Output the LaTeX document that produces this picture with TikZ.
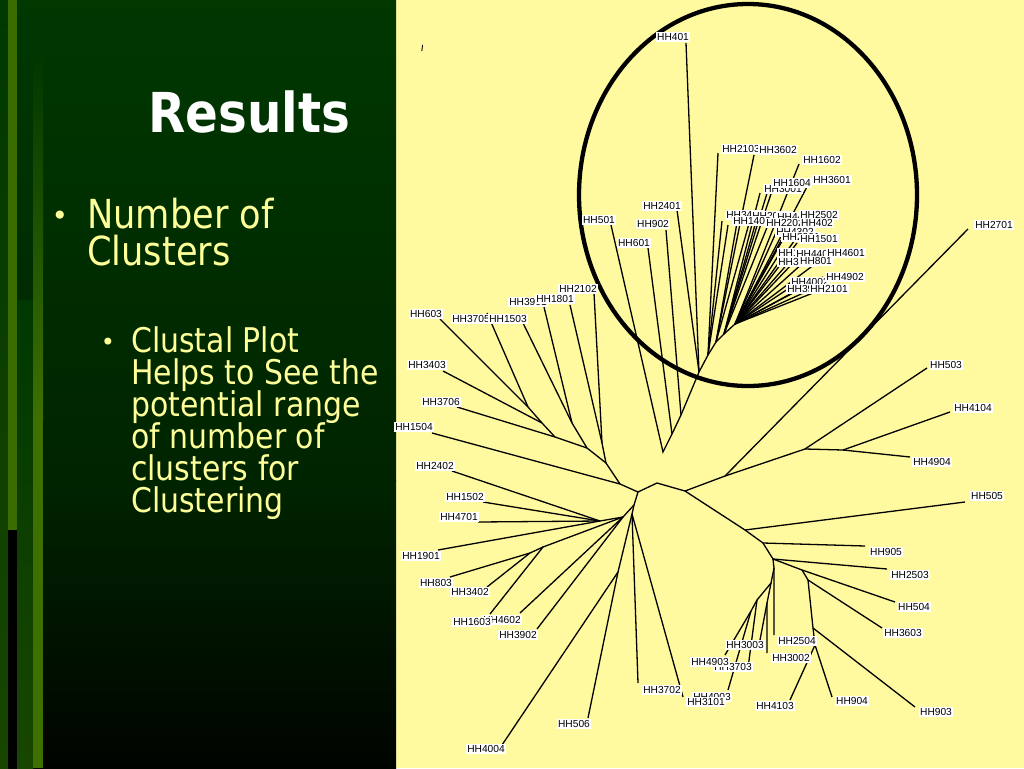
\documentclass[tikz,border=0pt]{standalone}
\usepackage{fontspec}
\setmainfont{DejaVu Sans}
\newfontfamily\tah[FakeStretch=0.88]{DejaVu Sans}
\newfontfamily\labf{Liberation Sans}
\definecolor{ybg}{RGB}{255,249,160}
\definecolor{ytext}{RGB}{255,255,153}
\definecolor{gA}{RGB}{0,56,0}
\definecolor{gB}{RGB}{0,36,0}
\definecolor{gC}{RGB}{0,4,0}
\definecolor{stA}{RGB}{58,108,0}
\definecolor{stB}{RGB}{62,112,0}
\definecolor{stC}{RGB}{24,70,0}
\begin{document}
\begin{tikzpicture}[x=1pt,y=-1pt,
  lab/.style={fill=white, inner xsep=1pt, inner ysep=1pt, font=\labf\fontsize{10.2}{10}\selectfont, text height=7.3pt, text depth=0pt},
  br/.style={line width=1.3pt, black},
  ttl/.style={anchor=base west, inner sep=0, text=white, font=\tah\bfseries\fontsize{55}{60}\selectfont},
  big/.style={anchor=base west, inner sep=0, text=ytext, font=\tah\fontsize{40}{40}\selectfont},
  small/.style={anchor=base west, inner sep=0, text=ytext, font=\tah\fontsize{34}{34}\selectfont}]
\useasboundingbox (0,0) rectangle (1024,768);
% ---------- backgrounds
\fill[ybg] (396,0) rectangle (1024,768);
\shade[top color=gA, bottom color=gB] (0,0) rectangle (396,480);
\shade[top color=gB, bottom color=gC] (0,480) rectangle (396,768);
\shade[top color=gA, bottom color=stC] (0,0) rectangle (8,768);
\fill[stA] (8,0) rectangle (17,530);
\fill[black] (8,530) rectangle (17,768);
\shade[top color=gA, bottom color=stC] (17,300) rectangle (33,768);
\shade[top color=gA, bottom color=stB] (33,60) rectangle (43,420);
\fill[stB] (33,420) rectangle (43,768);
% ---------- text
\node[ttl] (title) at (148,132) {Results};
\node[anchor=base, inner sep=0, text=ytext, font=\fontsize{28}{28}\selectfont] (bul1) at (60,225) {•};
\node[big] (t1a) at (87,228) {Number of};
\node[big] (t1b) at (87,265) {Clusters};
\node[anchor=base, inner sep=0, text=ytext, font=\fontsize{24}{24}\selectfont] (bul2) at (108,350) {•};
\node[small] (t2a) at (131,352) {Clustal Plot};
\node[small] (t2b) at (131,384) {Helps to See the};
\node[small] (t2c) at (131,416) {potential range};
\node[small] (t2d) at (131,448) {of number of};
\node[small] (t2e) at (131,480) {clusters for};
\node[small] (t2f) at (131,512) {Clustering};
% ---------- tick mark
\coordinate (tk1) at (422.6,45);
\coordinate (tk2) at (421.8,51);
\draw[line width=0.9pt] (tk1) -- (tk2);
% ---------- internal nodes
\coordinate (A) at (638,492);
\coordinate (B) at (620,484);
\coordinate (C) at (606,463);
\coordinate (D) at (587,448);
\coordinate (E) at (555,437);
\coordinate (F) at (542,423);
\coordinate (G) at (528,407);
\coordinate (H) at (572,423);
\coordinate (I) at (602,443);
\coordinate (J) at (634,505);
\coordinate (J2) at (632,514);
\coordinate (K) at (623,517);
\coordinate (N2) at (600,521);
\coordinate (N4) at (543,547);
\coordinate (N5) at (530,553);
\coordinate (L) at (618,572);
\coordinate (S1) at (657,483);
\coordinate (S2) at (685,491);
\coordinate (T1) at (725,476);
\coordinate (T2) at (805,449);
\coordinate (T3) at (843,450);
\coordinate (U1) at (745,530);
\coordinate (U2) at (763,543);
\coordinate (U3) at (773,559);
\coordinate (U4) at (802,570);
\coordinate (U5) at (808,580);
\coordinate (U6) at (813,628);
\coordinate (U7) at (815,645);
\coordinate (V1) at (774,568);
\coordinate (V2) at (771,583);
\coordinate (V3) at (767,603);
\coordinate (V4) at (757,600);
\coordinate (V5) at (751,611);
\coordinate (V) at (663,452);
\coordinate (Q1) at (672,434);
\coordinate (Q2) at (681,415);
\coordinate (Q3) at (699,372);
\coordinate (Q4) at (708,355);
\coordinate (Q5) at (716,342);
\coordinate (Q6) at (724,334);
\coordinate (Q7) at (735,324);
% ---------- leaf ends
\coordinate (e603) at (440,319);
\coordinate (e3705) at (487,313);
\coordinate (e1503) at (523,323);
\coordinate (e3901) at (544,307);
\coordinate (e1801) at (570,305);
\coordinate (e2102) at (594,293);
\coordinate (e3403) at (443,371);
\coordinate (e3706) at (457,407);
\coordinate (e1504) at (432,433);
\coordinate (e2402) at (452,471);
\coordinate (e1502) at (483,502);
\coordinate (e4701) at (478,522);
\coordinate (e1901) at (438,550);
\coordinate (e803) at (450,577);
\coordinate (e3402) at (487,587);
\coordinate (e1603) at (490,614);
\coordinate (e4602) at (520,613);
\coordinate (e3902) at (537,629);
\coordinate (e4004) at (502,745);
\coordinate (e506) at (588,718);
\coordinate (e3702) at (638,683);
\coordinate (e3101) at (683,697);
\coordinate (e2701) at (968,229);
\coordinate (e503) at (927,368);
\coordinate (e4104) at (950,412);
\coordinate (e4904) at (910,457);
\coordinate (e505) at (965,502);
\coordinate (e905) at (865,546);
\coordinate (e2503) at (887,569);
\coordinate (e504) at (895,602);
\coordinate (e3603) at (882,628);
\coordinate (e903) at (915,707);
\coordinate (e904) at (832,697);
\coordinate (e4103) at (790,700);
\coordinate (e2504) at (774,635);
\coordinate (e3002) at (767,653);
\coordinate (e3003) at (760,640);
\coordinate (e3703) at (748,668);
\coordinate (e4903) at (725,655);
\coordinate (e4003) at (728,690);
\coordinate (e501) at (611,225);
\coordinate (e601) at (648,248);
\coordinate (e902) at (666,230);
\coordinate (e2401) at (677,210);
\coordinate (e401) at (686,43);
\coordinate (f1) at (718,153);
\coordinate (f2) at (722,221);
\coordinate (f3) at (728,225);
\coordinate (f4) at (754,155);
\coordinate (f5) at (738,217);
\coordinate (f6) at (750,220);
\coordinate (f7) at (760,193);
\coordinate (f8) at (768,190);
\coordinate (f9) at (773,188);
\coordinate (f10) at (757,218);
\coordinate (f11) at (770,220);
\coordinate (f12) at (799,164);
\coordinate (f13) at (809,183);
\coordinate (f14) at (783,217);
\coordinate (f15) at (790,227);
\coordinate (f16) at (783,237);
\coordinate (f17) at (797,237);
\coordinate (f18) at (797,243);
\coordinate (f19) at (780,253);
\coordinate (f20) at (797,253);
\coordinate (f21) at (823,258);
\coordinate (f22) at (793,263);
\coordinate (f23) at (803,263);
\coordinate (f24) at (823,277);
\coordinate (f25) at (797,283);
\coordinate (f26) at (803,287);
\coordinate (f27) at (810,290);
\coordinate (f28) at (813,293);
% ---------- branches
\draw[br] (A) -- (B) -- (e1504);
\draw[br] (B) -- (C) -- (I) -- (e1801);
\draw[br] (I) -- (e2102);
\draw[br] (C) -- (D) -- (H) -- (e1503);
\draw[br] (H) -- (e3901);
\draw[br] (D) -- (E) -- (e3706);
\draw[br] (E) -- (F) -- (e3403);
\draw[br] (F) -- (G) -- (e603);
\draw[br] (G) -- (e3705);
\draw[br] (A) -- (J) -- (J2) -- (e3702);
\draw[br] (J2) -- (e3101);
\draw[br] (J2) -- (L) -- (e506);
\draw[br] (L) -- (e4004);
\draw[br] (J) -- (K) -- (e3902);
\draw[br] (K) -- (e4602);
\draw[br] (K) -- (N4) -- (e1603);
\draw[br] (N4) -- (N5) -- (e803);
\draw[br] (N5) -- (e3402);
\draw[br] (K) -- (N2) -- (e1502);
\draw[br] (N2) -- (e4701);
\draw[br] (N2) -- (e2402);
\draw[br] (N2) -- (e1901);
\draw[br] (A) -- (S1) -- (S2) -- (T1) -- (e2701);
\draw[br] (T1) -- (T2) -- (e503);
\draw[br] (T2) -- (T3) -- (e4104);
\draw[br] (T3) -- (e4904);
\draw[br] (S2) -- (U1) -- (e505);
\draw[br] (U1) -- (U2) -- (e905);
\draw[br] (U2) -- (U3) -- (e2503);
\draw[br] (U3) -- (U4) -- (e504);
\draw[br] (U4) -- (U5) -- (e3603);
\draw[br] (U5) -- (U6) -- (e903);
\draw[br] (U6) -- (U7) -- (e904);
\draw[br] (U7) -- (e4103);
\draw[br] (U3) -- (V1) -- (e2504);
\draw[br] (V1) -- (V2) -- (V3) -- (e3002);
\draw[br] (V3) -- (e3003);
\draw[br] (V2) -- (V4) -- (e3703);
\draw[br] (V4) -- (V5) -- (e4903);
\draw[br] (V5) -- (e4003);
\draw[br] (e501) -- (V) -- (Q1) -- (e601);
\draw[br] (Q1) -- (Q2) -- (e902);
\draw[br] (Q2) -- (Q3) -- (e401);
\draw[br] (Q3) -- (e2401);
\draw[br] (Q3) -- (Q4) -- (Q5) -- (Q6) -- (Q7);
\foreach \f in {f1,f2,f3} \draw[br] (Q4) -- (\f);
\foreach \f in {f4,f5,f6} \draw[br] (Q5) -- (\f);
\foreach \f in {f7,f8,f9,f10,f11} \draw[br] (Q6) -- (\f);
\foreach \f in {f12,f13,f14,f15,f16,f17,f18,f19,f20,f21,f22,f23,f24,f25,f26,f27,f28} \draw[br] (Q7) -- (\f);
% ---------- circle
\draw[line width=4.3pt] (748,195) ellipse [x radius=169, y radius=191];
% ---------- labels, upper left
\node[lab] (l603) at (426,314) {HH603};
\node[lab] (l3705) at (471,319) {HH3705};
\node[lab] (l1503) at (508,319) {HH1503};
\node[lab] (l3901) at (528,302) {HH3901};
\node[lab] (l1801) at (555,299) {HH1801};
\node[lab] (l2102) at (578,289) {HH2102};
\node[lab] (l3403) at (427,365) {HH3403};
\node[lab] (l3706) at (441,402) {HH3706};
\node[lab] (l1504) at (414,427) {HH1504};
\node[lab] (l2402) at (435,466) {HH2402};
% lower left
\node[lab] (l1502) at (465,497) {HH1502};
\node[lab] (l4701) at (459,517) {HH4701};
\node[lab] (l1901) at (421,556) {HH1901};
\node[lab] (l803) at (436,583) {HH803};
\node[lab] (l3402) at (470,592) {HH3402};
\node[lab] (l4602) at (502,620) {HH4602};
\node[lab] (l1603) at (472,622) {HH1603};
\node[lab] (l3902) at (518,635) {HH3902};
\node[lab] (l506) at (574,724) {HH506};
\node[lab] (l4004) at (486,749) {HH4004};
\node[lab] (l3702) at (662,690) {HH3702};
\node[lab] (l4003) at (712,697) {HH4003};
\node[lab] (l3101) at (706,702) {HH3101};
% lower right
\node[lab] (l2701) at (994,225) {HH2701};
\node[lab] (l503) at (946,365) {HH503};
\node[lab] (l4104) at (973,408) {HH4104};
\node[lab] (l4904) at (932,462) {HH4904};
\node[lab] (l505) at (987,496) {HH505};
\node[lab] (l905) at (886,552) {HH905};
\node[lab] (l2503) at (910,575) {HH2503};
\node[lab] (l504) at (914,607) {HH504};
\node[lab] (l3603) at (903,633) {HH3603};
\node[lab] (l903) at (936,712) {HH903};
\node[lab] (l904) at (852,701) {HH904};
\node[lab] (l4103) at (775,706) {HH4103};
\node[lab] (l2504) at (797,641) {HH2504};
\node[lab] (l3002) at (791,658) {HH3002};
\node[lab] (l3703) at (733,667) {HH3703};
\node[lab] (l3003) at (745,645) {HH3003};
\node[lab] (l4903) at (710,662) {HH4903};
% circled cluster
\node[lab] (l401) at (673,37) {HH401};
\node[lab] (l2103) at (741,149) {HH2103};
\node[lab] (l3602) at (778,150) {HH3602};
\node[lab] (l1602) at (822,160) {HH1602};
\node[lab] (l3601) at (832,180) {HH3601};
\node[lab] (l3001) at (783,189) {HH3001};
\node[lab] (l1604) at (792,183) {HH1604};
\node[lab] (l2401) at (662,206) {HH2401};
\node[lab] (l501) at (599,220) {HH501};
\node[lab] (l902) at (653,224) {HH902};
\node[lab] (l601) at (634,243) {HH601};
\node[lab] (l3401) at (745,215) {HH3401};
\node[lab] (l2001) at (771,216) {HH2001};
\node[lab] (l4403) at (796,217) {HH4403};
\node[lab] (l1402) at (752,221) {HH1402};
\node[lab] (l2202) at (785,223) {HH2202};
\node[lab] (l2502) at (819,215) {HH2502};
\node[lab] (l402) at (817,223) {HH402};
\node[lab] (l4302) at (795,232) {HH4302};
\node[lab] (l2301) at (801,237) {HH2301};
\node[lab] (l1501) at (819,239) {HH1501};
\node[lab] (l1401) at (797,253) {HH1401};
\node[lab] (l4401) at (815,254) {HH4401};
\node[lab] (l4601) at (846,253) {HH4601};
\node[lab] (l3301) at (797,262) {HH3301};
\node[lab] (l801) at (816,261) {HH801};
\node[lab] (l4002) at (810,282) {HH4002};
\node[lab] (l4902) at (845,277) {HH4902};
\node[lab] (l3903) at (806,289) {HH3903};
\node[lab] (l2101) at (829,289) {HH2101};
\end{tikzpicture}
\end{document}
